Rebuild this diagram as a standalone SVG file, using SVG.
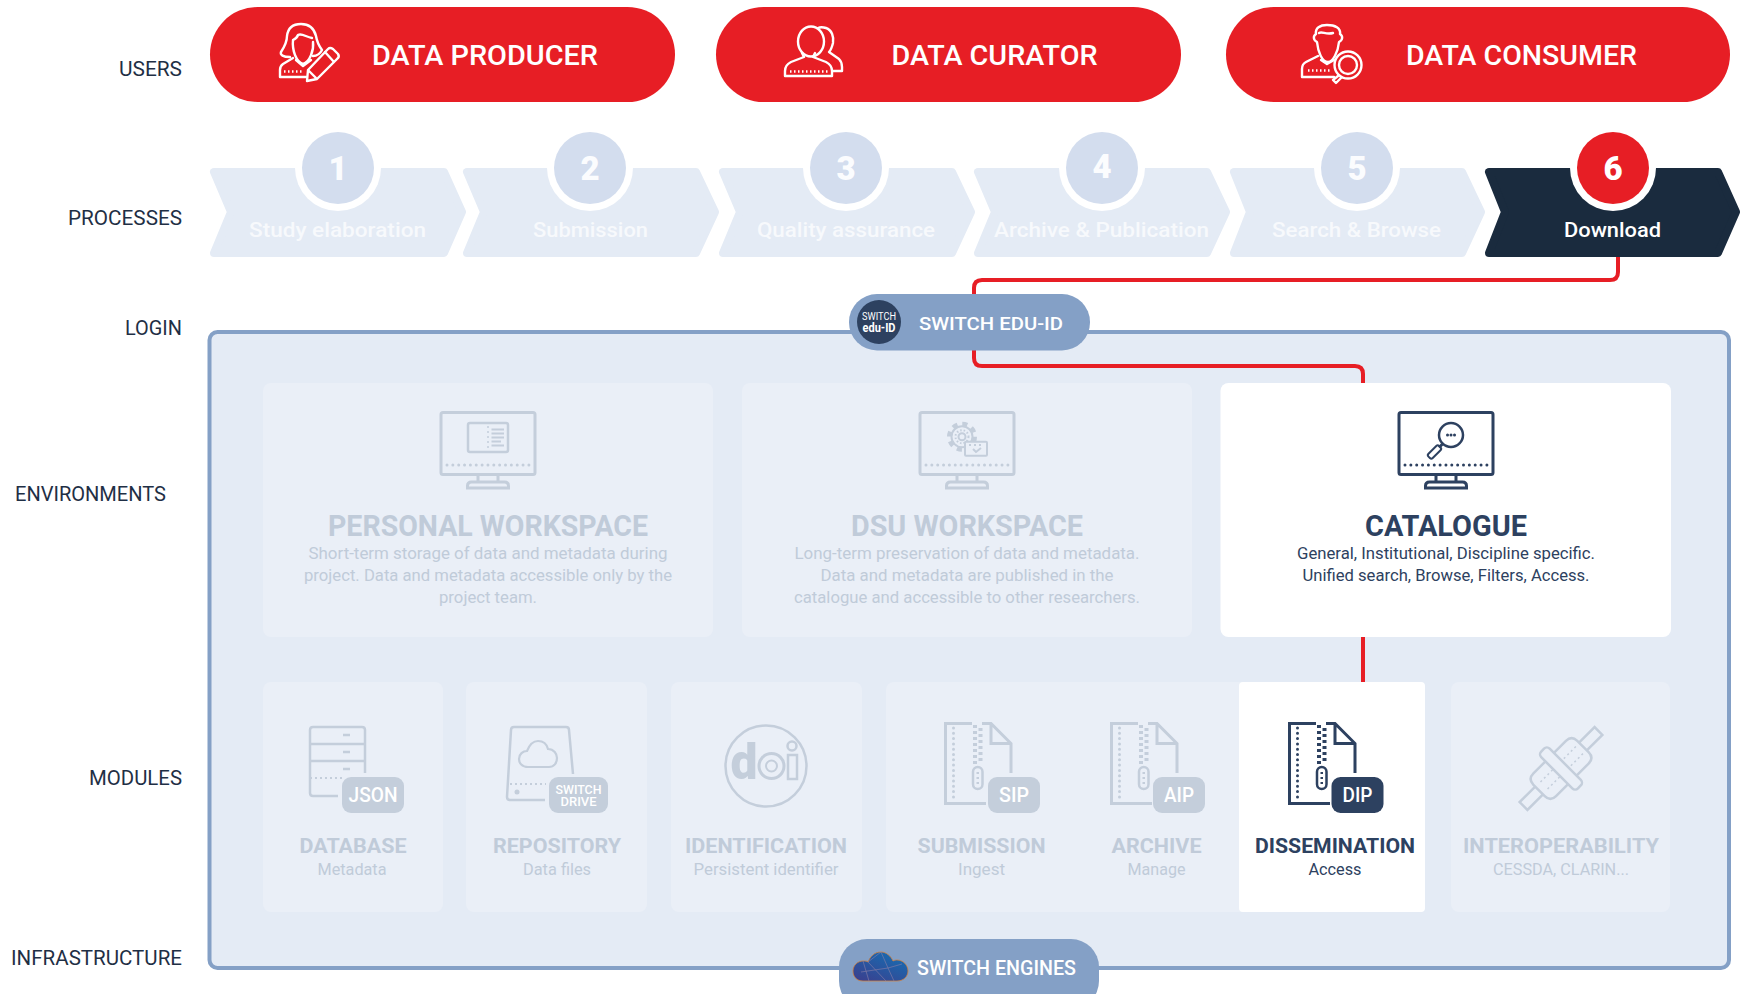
<svg xmlns="http://www.w3.org/2000/svg" width="1740" height="994" viewBox="0 0 1740 994">
<style>
text{font-family:Roboto,"Liberation Sans",sans-serif;text-anchor:middle}
.lab{font-size:20px;fill:#1f2f45;text-anchor:end}
.pt{font-size:28px;font-weight:500;fill:#fff}
.ch{fill:#e4ebf5;stroke:#e4ebf5;stroke-width:8;stroke-linejoin:round}
.ct{font-size:20px;font-weight:500;fill:#f7f9fc}
.n{font-size:33px;font-weight:900;fill:#fbfcfe}
.et{font-size:29px;font-weight:700}
.ed{font-size:17px}
.mt{font-size:20px;font-weight:700}
.ms{font-size:16px}
.off{fill:#c0cbd9}
.on{fill:#2d4160}
.cardoff{fill:#eaeff7}
.icon{fill:none;stroke:currentColor;stroke-width:3}
.thin{fill:none;stroke:currentColor;stroke-width:2}
.wl{fill:none;stroke:#fff;stroke-width:2.4;stroke-linejoin:round;stroke-linecap:round}
.dots{fill:none;stroke:#fff;stroke-width:2.400;stroke-dasharray:1.500 2.500}
.conn{fill:none;stroke:#e71e25;stroke-width:4}
.bd{font-weight:500;fill:#fff}
.g{color:#c4cedb}
.d{color:#2d4160}
</style>
<defs>
<linearGradient id="cg" x1="0.9" y1="0" x2="0.1" y2="1"><stop offset="0" stop-color="#1470b4"/><stop offset="1" stop-color="#3b3f8e"/></linearGradient>
<g id="monitor" class="icon">
<rect x="-47" y="1.5" width="94" height="62" rx="2"/>
<path d="M-41 54H41" stroke-dasharray="0 5.850" stroke-linecap="round"/>
<path d="M-10 64v7M10 64v7M-20.500 77v-2q0-4 4-4h33q4 0 4 4v2z"/>
</g>
<g id="zipfile">
<path class="icon" d="M28 1.500H1.500V81.500H42M38 1.500H47L67 21.500V51M47 1.500V21.500H67"/>
<path d="M9.500 6V78" fill="none" stroke="currentColor" stroke-width="3" stroke-dasharray="0 5.300" stroke-linecap="round"/>
<path d="M31 3V42" fill="none" stroke="currentColor" stroke-width="4" stroke-dasharray="3 3"/>
<path d="M36.500 6V42" fill="none" stroke="currentColor" stroke-width="4" stroke-dasharray="3 3"/>
<rect x="29" y="45" width="9.500" height="22" rx="4.750" class="thin" style="stroke-width:2.500"/>
<path d="M33.750 50v12" stroke="currentColor" stroke-width="2.500" stroke-dasharray="2 3"/>
</g>
</defs>

<rect width="1740" height="994" fill="#fff"/>

<g id="labels">
<text class="lab" x="182" y="76" textLength="63" lengthAdjust="spacingAndGlyphs">USERS</text>
<text class="lab" x="182" y="225" textLength="114" lengthAdjust="spacingAndGlyphs">PROCESSES</text>
<text class="lab" x="182" y="335" textLength="57" lengthAdjust="spacingAndGlyphs">LOGIN</text>
<text class="lab" x="166" y="500.500" textLength="151" lengthAdjust="spacingAndGlyphs">ENVIRONMENTS</text>
<text class="lab" x="182" y="784.500" textLength="93" lengthAdjust="spacingAndGlyphs">MODULES</text>
<text class="lab" x="182" y="965" textLength="171" lengthAdjust="spacingAndGlyphs">INFRASTRUCTURE</text>
</g>

<g id="user-producer">
<rect x="210" y="7" width="465" height="95" rx="47.500" fill="#e71e25"/>
<g class="wl">
<path d="M290 57C283 57 280 55 281 52C285 46 287 42 287 36C288 28 293 24 301 24C309 24 314 28 316 36C317 42 319 46 322 50C320 54 317 56 313 56"/>
<path d="M293 40C292 50 296 62 303 64C310 62 314 50 313 42M298 35C302 33 306 37 312 38M293 40C295 39 297 38 298 35"/>
<path d="M293 58L283 64Q280 66 280 70V77H306M296 60L303 66L311 60"/>
<path d="M308 70L328 49Q330 47 333 49L338 54Q340 57 337 59L317 79L307 81ZM308 70L316 78M325 52L334 62"/>
</g>
<path class="dots" d="M284 71.500H304"/>
<text class="pt" x="485" y="65" textLength="226" lengthAdjust="spacingAndGlyphs">DATA PRODUCER</text>
</g>
<g id="user-curator">
<rect x="716" y="7" width="465" height="95" rx="47.500" fill="#e71e25"/>
<g class="wl">
<ellipse cx="811" cy="41.500" rx="13" ry="15"/>
<path d="M802 53l2 4-13 5c-4 2-6 5-6 9v5h47v-5c0-4-2-7-6-9l-13-5 2-4"/>
<path d="M818 28c2-1 5-1 8 0 6 2 8 9 7 15-1 4-2 7-4 9l10 7c2 2 3 5 3 8v4h-9"/>
</g>
<path class="dots" d="M790 71.500H828"/>
<text class="pt" x="994.500" y="65" textLength="206" lengthAdjust="spacingAndGlyphs">DATA CURATOR</text>
</g>
<g id="user-consumer">
<rect x="1226" y="7" width="504" height="95" rx="47.500" fill="#e71e25"/>
<g class="wl">
<path d="M1317 42C1313 40 1313 36 1316 34C1315 28 1320 25 1327 25C1335 25 1341 28 1340 34C1343 36 1343 40 1339 42C1338 52 1333 62 1328 62C1322 62 1318 52 1317 42Z"/>
<path d="M1319 33C1322 31 1326 35 1333 33"/>
<path d="M1318 56L1306 62Q1302 64 1302 69V77H1334M1321 60L1327 64L1334 60"/>
<circle cx="1348" cy="65" r="13.500"/>
<circle cx="1348" cy="65" r="9"/>
<path d="M1338 76L1333 80L1336 83L1341 78"/>
</g>
<path class="dots" d="M1308 70.500H1330"/>
<text class="pt" x="1521.500" y="65" textLength="231" lengthAdjust="spacingAndGlyphs">DATA CONSUMER</text>
</g>

<g id="step-1">
<path class="ch" d="M214 172H444L462 212 444 253H214L231 212z"/>
<circle cx="338" cy="168" r="43" fill="#fff"/><circle cx="338" cy="168" r="36" fill="#d3ddee"/>
<text class="n" x="338" y="180">1</text>
<text class="ct" x="337.500" y="237" textLength="177" lengthAdjust="spacingAndGlyphs">Study elaboration</text>
</g>
<g id="step-2">
<path class="ch" d="M467 172H696L715 212 696 253H467L484 212z"/>
<circle cx="590" cy="168" r="43" fill="#fff"/><circle cx="590" cy="168" r="36" fill="#d3ddee"/>
<text class="n" x="590" y="180">2</text>
<text class="ct" x="590.500" y="237" textLength="115" lengthAdjust="spacingAndGlyphs">Submission</text>
</g>
<g id="step-3">
<path class="ch" d="M723 172H952L971 212 952 253H723L740 212z"/>
<circle cx="846" cy="168" r="43" fill="#fff"/><circle cx="846" cy="168" r="36" fill="#d3ddee"/>
<text class="n" x="846" y="180">3</text>
<text class="ct" x="846" y="237" textLength="178" lengthAdjust="spacingAndGlyphs">Quality assurance</text>
</g>
<g id="step-4">
<path class="ch" d="M978 172H1207L1226 212 1207 253H978L995 212z"/>
<circle cx="1102" cy="168" r="43" fill="#fff"/><circle cx="1102" cy="168" r="36" fill="#d3ddee"/>
<text class="n" x="1102" y="178">4</text>
<text class="ct" x="1101.500" y="237" textLength="215" lengthAdjust="spacingAndGlyphs">Archive &amp; Publication</text>
</g>
<g id="step-5">
<path class="ch" d="M1234 172H1462L1481 212 1462 253H1234L1250 212z"/>
<circle cx="1357" cy="168" r="43" fill="#fff"/><circle cx="1357" cy="168" r="36" fill="#d3ddee"/>
<text class="n" x="1357" y="180">5</text>
<text class="ct" x="1356.500" y="237" textLength="169" lengthAdjust="spacingAndGlyphs">Search &amp; Browse</text>
</g>
<g id="step-6">
<path class="ch" style="fill:#1a2b3e;stroke:#1a2b3e" d="M1489 172H1718L1736 212 1718 253H1489L1505 212z"/>
<circle cx="1613" cy="168" r="43" fill="#fff"/><circle cx="1613" cy="168" r="36" fill="#e71e25"/>
<text class="n" style="fill:#fff" x="1613" y="180">6</text>
<text class="ct" style="fill:#fff" x="1612.500" y="237" textLength="97" lengthAdjust="spacingAndGlyphs">Download</text>
</g>

<g id="platform">
<rect x="209.500" y="332" width="1519.500" height="636" rx="8" fill="#e4ebf5" stroke="#84a0c6" stroke-width="4"/>
</g>

<g id="connectors">
<path class="conn" d="M1618 257V272Q1618 280 1610 280H982Q974 280 974 288V358Q974 366 982 366H1355Q1363 366 1363 374V384"/>
<path class="conn" d="M1363 637V682"/>
</g>

<g id="login">
<rect x="849" y="294" width="241" height="56.500" rx="28" fill="#84a0c6"/>
<circle cx="879" cy="322" r="22" fill="#2d4160"/>
<text x="879" y="320" font-size="10" fill="#fff" textLength="34" lengthAdjust="spacingAndGlyphs">SWITCH</text>
<text x="879" y="332" font-size="13.500" font-weight="700" fill="#fff" textLength="33" lengthAdjust="spacingAndGlyphs">edu-ID</text>
<text x="991" y="329.500" font-size="19" font-weight="500" fill="#fff" textLength="144" lengthAdjust="spacingAndGlyphs">SWITCH EDU-ID</text>
</g>

<g id="env-personal">
<rect x="263" y="383" width="450" height="254" rx="8" class="cardoff"/>
<g class="g" transform="translate(488 411)"><use href="#monitor"/>
<rect x="-20" y="12" width="40" height="29" rx="2" class="icon" style="stroke-width:2.500"/>
<path d="M0 15V38" class="thin" style="stroke-dasharray:2 3;stroke-width:1.500"/>
<path d="M3.500 18.500H16M3.500 22.500H16M3.500 26.500H16M3.500 30.500H13M3.500 34.500H16" class="thin"/></g>
<text class="et off" x="488" y="536" textLength="320" lengthAdjust="spacingAndGlyphs">PERSONAL WORKSPACE</text>
<text class="ed off" x="488" y="558.500" textLength="359" lengthAdjust="spacingAndGlyphs">Short-term storage of data and metadata during</text>
<text class="ed off" x="488" y="580.500" textLength="368" lengthAdjust="spacingAndGlyphs">project. Data and metadata accessible only by the</text>
<text class="ed off" x="488" y="602.500" textLength="98" lengthAdjust="spacingAndGlyphs">project team.</text>
</g>
<g id="env-dsu">
<rect x="742" y="383" width="450" height="254" rx="8" class="cardoff"/>
<g class="g" transform="translate(967 411)"><use href="#monitor"/>
<circle cx="-5" cy="25.700" r="12.500" class="thin" style="stroke-width:5;stroke-dasharray:5 4.800"/>
<circle cx="-5" cy="25.700" r="10.500" class="thin"/>
<circle cx="-5" cy="25.700" r="6.500" class="thin" style="stroke-dasharray:1.500 2"/>
<circle cx="-5" cy="25.700" r="3.500" class="thin"/>
<rect x="-2" y="30.700" width="22" height="14" rx="1" fill="#eaeff7" stroke="currentColor" stroke-width="2"/>
<path d="M2 34h14" class="thin" style="stroke-dasharray:2 3"/>
<path d="M6 38l3 3 5-4" class="thin"/></g>
<text class="et off" x="967" y="536" textLength="232" lengthAdjust="spacingAndGlyphs">DSU WORKSPACE</text>
<text class="ed off" x="967" y="558.500" textLength="345" lengthAdjust="spacingAndGlyphs">Long-term preservation of data and metadata.</text>
<text class="ed off" x="967" y="580.500" textLength="293" lengthAdjust="spacingAndGlyphs">Data and metadata are published in the</text>
<text class="ed off" x="967" y="602.500" textLength="346" lengthAdjust="spacingAndGlyphs">catalogue and accessible to other researchers.</text>
</g>
<g id="env-catalogue">
<rect x="1220.500" y="383" width="450.500" height="254" rx="8" fill="#fff"/>
<g class="d" transform="translate(1446 411)"><use href="#monitor"/>
<circle cx="5" cy="24" r="12" class="icon" style="stroke-width:2.500"/>
<path d="M1.500 24h.01M5 24h.01M8.500 24h.01" class="icon" style="stroke-linecap:round"/>
<path d="M-3.500 33L-7 36.500" class="icon"/>
<rect x="-19" y="38" width="15" height="6" rx="2" transform="rotate(-45 -11.500 41)" class="thin"/></g>
<text class="et on" x="1446" y="536" textLength="162" lengthAdjust="spacingAndGlyphs">CATALOGUE</text>
<text class="ed on" x="1446" y="558.500" textLength="298" lengthAdjust="spacingAndGlyphs">General, Institutional, Discipline specific.</text>
<text class="ed on" x="1446" y="580.500" textLength="287" lengthAdjust="spacingAndGlyphs">Unified search, Browse, Filters, Access.</text>
</g>

<g id="mod-database">
<rect x="263" y="682" width="180" height="230" rx="8" class="cardoff"/>
<g class="g">
<path class="thin" d="M365 773V730q0-3-3-3H313q-3 0-3 3V793q0 3 3 3H338M310 744h54M310 761h54" style="stroke-width:2.500"/>
<path class="thin" d="M310 778h32" style="stroke-dasharray:2 3"/>
<path class="thin" d="M343 735h7M343 752h7M343 769h7" style="stroke-width:2.500"/>
</g>
<rect x="342" y="777" width="62" height="36" rx="9" fill="#c4cedb"/>
<text x="373" y="802" font-size="20" class="bd" textLength="49" lengthAdjust="spacingAndGlyphs">JSON</text>
<text class="mt off" x="353" y="853" textLength="107" lengthAdjust="spacingAndGlyphs">DATABASE</text>
<text class="ms off" x="352" y="875" textLength="69" lengthAdjust="spacingAndGlyphs">Metadata</text>
</g>
<g id="mod-repository">
<rect x="466" y="682" width="181" height="230" rx="8" class="cardoff"/>
<g class="g">
<path class="thin" d="M573 774L569 730q0-3-3-3H514q-3 0-3 3L507 797q0 3 3 3H545" style="stroke-width:2.500"/>
<path class="thin" d="M510 784h36" style="stroke-dasharray:2 3"/>
<circle cx="517" cy="792" r="2.500" fill="currentColor"/>
<path class="thin" d="M528 767c-6 0-9-4-9-8 0-5 4-8 8-8 2-5 6-10 11-10 6 0 9 4 10 8 6 0 9 5 9 9 0 5-3 9-8 9z" style="stroke-width:2.200"/>
</g>
<rect x="549" y="777" width="59" height="36" rx="9" fill="#c4cedb"/>
<text x="578.500" y="794" font-size="12.500" class="bd" textLength="46" lengthAdjust="spacingAndGlyphs">SWITCH</text>
<text x="578.500" y="806" font-size="12.500" class="bd" textLength="36" lengthAdjust="spacingAndGlyphs">DRIVE</text>
<text class="mt off" x="557" y="853" textLength="128" lengthAdjust="spacingAndGlyphs">REPOSITORY</text>
<text class="ms off" x="557" y="875" textLength="68" lengthAdjust="spacingAndGlyphs">Data files</text>
</g>
<g id="mod-identification">
<rect x="671" y="682" width="191" height="230" rx="8" class="cardoff"/>
<circle cx="766" cy="766" r="40.500" fill="none" stroke="#c4cedb" stroke-width="2.500"/>
<text x="744" y="779" font-size="50" font-weight="900" fill="#c4cedb" textLength="27" lengthAdjust="spacingAndGlyphs">d</text>
<circle cx="771.500" cy="766" r="12.500" fill="none" stroke="#c4cedb" stroke-width="3"/><circle cx="771.500" cy="766" r="5.500" fill="none" stroke="#c4cedb" stroke-width="2"/>
<rect x="788" y="755" width="9" height="24" fill="none" stroke="#c4cedb" stroke-width="2.500"/><circle cx="792" cy="746" r="4.500" fill="none" stroke="#c4cedb" stroke-width="2.500"/>
<text class="mt off" x="766" y="853" textLength="162" lengthAdjust="spacingAndGlyphs">IDENTIFICATION</text>
<text class="ms off" x="766" y="875" textLength="145" lengthAdjust="spacingAndGlyphs">Persistent identifier</text>
</g>
<g id="mod-submission">
<rect x="886" y="682" width="270" height="230" rx="8" class="cardoff"/>
<use href="#zipfile" x="944" y="722" class="g"/>
<rect x="988" y="777" width="52" height="36" rx="9" fill="#c4cedb"/>
<text x="1014" y="802" font-size="20" class="bd" textLength="30" lengthAdjust="spacingAndGlyphs">SIP</text>
<text class="mt off" x="981.500" y="853" textLength="128" lengthAdjust="spacingAndGlyphs">SUBMISSION</text>
<text class="ms off" x="981.500" y="875" textLength="47" lengthAdjust="spacingAndGlyphs">Ingest</text>
</g>
<g id="mod-archive">
<rect x="1070" y="682" width="180" height="230" class="cardoff"/>
<use href="#zipfile" x="1110" y="722" class="g"/>
<rect x="1153" y="777" width="52" height="36" rx="9" fill="#c4cedb"/>
<text x="1179" y="802" font-size="20" class="bd" textLength="30" lengthAdjust="spacingAndGlyphs">AIP</text>
<text class="mt off" x="1156.500" y="853" textLength="90" lengthAdjust="spacingAndGlyphs">ARCHIVE</text>
<text class="ms off" x="1156.500" y="875" textLength="58" lengthAdjust="spacingAndGlyphs">Manage</text>
</g>
<g id="mod-dissemination">
<rect x="1239" y="682" width="186" height="230" rx="4" fill="#fff"/>
<use href="#zipfile" x="1288" y="722" class="d"/>
<rect x="1331.500" y="777" width="52" height="36" rx="9" fill="#2d4160"/>
<text x="1357.500" y="802" font-size="20" class="bd" textLength="30" lengthAdjust="spacingAndGlyphs">DIP</text>
<text class="mt on" x="1335" y="853" textLength="160" lengthAdjust="spacingAndGlyphs">DISSEMINATION</text>
<text class="ms on" x="1335" y="875" textLength="53" lengthAdjust="spacingAndGlyphs">Access</text>
</g>
<g id="mod-interoperability">
<rect x="1451" y="682" width="219" height="230" rx="8" class="cardoff"/>
<g class="g" transform="translate(1561 768.500) rotate(45)">
<path class="thin" style="stroke-width:2.500" d="M-5.500-31V-53H5.500V-31M-5.500 31V53H5.500V31M-16-6V-23q0-8 8-8H8q8 0 8 8V-6M-16 6V23q0 8 8 8H8q8 0 8-8V6"/>
<rect x="-26" y="-6" width="52" height="12" rx="4" class="thin" style="stroke-width:2.500"/>
<path class="thin" d="M-5-26V-7M5-26V-7M-5 7V26M5 7V26" style="stroke-dasharray:2 3;stroke-width:1.500"/>
</g>
<text class="mt off" x="1561" y="853" textLength="196" lengthAdjust="spacingAndGlyphs">INTEROPERABILITY</text>
<text class="ms off" x="1561" y="875" textLength="136" lengthAdjust="spacingAndGlyphs">CESSDA, CLARIN...</text>
</g>

<g id="infrastructure">
<rect x="839" y="939" width="260" height="70" rx="28" fill="#84a0c6"/>
<path d="M863 981c-6 0-10-4-10-10 0-6 5-10 10-10 2 0 4 0 5 1 2-5 6-10 13-10 5 0 10 4 12 9 2-1 3-1 4-1 6 0 11 5 11 11 0 6-5 10-11 10z" fill="url(#cg)" stroke="#d2803c" stroke-width="0.800"/>
<path d="M863 961l6 20M868 962l18 19M881 952l7 16-27 4M888 968l14-4M888 968l6 13M868 962l13-10" fill="none" stroke="#8a7fa8" stroke-width="0.600"/>
<text x="996.500" y="975" font-size="20" font-weight="500" fill="#fff" textLength="159" lengthAdjust="spacingAndGlyphs">SWITCH ENGINES</text>
</g>
</svg>
